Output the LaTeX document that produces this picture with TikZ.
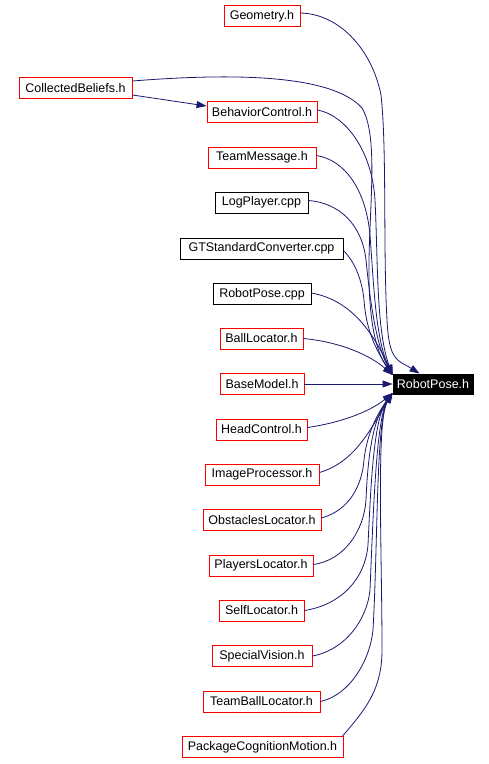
\documentclass[tikz,border=0pt]{standalone}
\usepackage{fontspec}
\setmainfont{Liberation Sans}
\usetikzlibrary{arrows.meta,calc}
\definecolor{edgeblue}{HTML}{191970}
\begin{document}
\begin{tikzpicture}[x=1pt,y=-1pt,
  filebox/.style={draw=red,line width=0.9pt,rectangle,inner sep=0pt,minimum height=21pt,font=\fontsize{12.5}{14}\selectfont,anchor=center},
  srcbox/.style={filebox,draw=black},
  mainbox/.style={filebox,draw=black,fill=black,text=white,minimum height=20pt},
  dep/.style={draw=edgeblue,line width=0.8pt,-{Triangle[length=10pt,width=7pt]}}
]
\useasboundingbox (0,0) rectangle (489,764);
\node[filebox,minimum width=76pt] (geo) at (262,16) {Geometry.h};
\node[filebox,minimum width=113pt] (cb) at (75.5,88) {CollectedBeliefs.h};
\node[filebox,minimum width=110pt] (bc) at (262,112) {BehaviorControl.h};
\node[filebox,minimum width=108pt] (tm) at (262,157.5) {TeamMessage.h};
\node[srcbox,minimum width=93pt] (lp) at (261.5,202.5) {LogPlayer.cpp};
\node[srcbox,minimum width=163pt] (gt) at (261.5,248.5) {GTStandardConverter.cpp};
\node[srcbox,minimum width=98pt] (rpc) at (262,294) {RobotPose.cpp};
\node[filebox,minimum width=83pt] (bl) at (261.5,338.5) {BallLocator.h};
\node[filebox,minimum width=84pt] (bm) at (262,384) {BaseModel.h};
\node[filebox,minimum width=91pt] (hc) at (261.5,429.5) {HeadControl.h};
\node[filebox,minimum width=114pt] (ip) at (262,474.5) {ImageProcessor.h};
\node[filebox,minimum width=118pt] (ol) at (262,520) {ObstaclesLocator.h};
\node[filebox,minimum width=104pt] (pl) at (261,565.5) {PlayersLocator.h};
\node[filebox,minimum width=85pt] (sl) at (261.5,610.5) {SelfLocator.h};
\node[filebox,minimum width=100pt] (sv) at (262,656) {SpecialVision.h};
\node[filebox,minimum width=117pt] (tbl) at (261.5,701.5) {TeamBallLocator.h};
\node[filebox,minimum width=161pt] (pcm) at (262.5,747) {PackageCognitionMotion.h};
\node[mainbox,minimum width=80pt] (rp) at (433,384) {RobotPose.h};
\coordinate (tu) at ([yshift=9pt]rp.west);
\coordinate (tl) at ([yshift=-9pt]rp.west);
\coordinate (tg) at ([xshift=27pt]rp.north west);
% upper group
\draw[dep] ([yshift=3pt]geo.east) .. controls (340,14) and (372,50) .. (381,95) .. controls (387,150) and (383,250) .. (387,320) .. controls (389,362) and (398,360) .. (tg);
\draw[dep] ([yshift=7pt]cb.east) .. controls (220,74) and (330,72) .. (362,108) .. controls (378,135) and (370,200) .. (369,260) .. controls (368,320) and (376,352) .. (tu);
\draw[dep] ([yshift=-7pt]cb.east) -- ([yshift=6pt]bc.west);
\draw[dep] ([yshift=2pt]bc.east) .. controls (345,115) and (372,150) .. (375,200) .. controls (378,260) and (376,330) .. (tu);
\draw[dep] ([yshift=2pt]tm.east) .. controls (345,160) and (366,190) .. (370,235) .. controls (374,290) and (376,340) .. (tu);
\draw[dep] ([yshift=2pt]lp.east) .. controls (340,203) and (362,225) .. (366,260) .. controls (370,300) and (376,345) .. (tu);
\draw[dep] ([yshift=-2pt]gt.east) .. controls (355,262) and (362,280) .. (364,300) .. controls (366,330) and (376,350) .. (tu);
\draw[dep] ([yshift=1pt]rpc.east) .. controls (350,300) and (372,330) .. (tu);
\draw[dep] (bl.east) .. controls (340,342) and (370,355) .. (tu);
% middle
\draw[dep] (bm.east) -- (rp.west);
% lower group
\draw[dep] ([yshift=2pt]hc.east) .. controls (345,422) and (372,410) .. (tl);
\draw[dep] ([yshift=2pt]ip.east) .. controls (355,462) and (370,430) .. (tl);
\draw[dep] ([yshift=2pt]ol.east) .. controls (350,510) and (362,485) .. (364,460) .. controls (366,440) and (374,418) .. (tl);
\draw[dep] ([yshift=1pt]pl.east) .. controls (345,560) and (364,530) .. (366,500) .. controls (368,450) and (374,418) .. (tl);
\draw[dep] ([yshift=0pt]sl.east) .. controls (340,605) and (365,580) .. (368,545) .. controls (371,480) and (374,418) .. (tl);
\draw[dep] ([yshift=0pt]sv.east) .. controls (345,650) and (367,620) .. (370,590) .. controls (373,520) and (376,418) .. (tl);
\draw[dep] ([yshift=0pt]tbl.east) .. controls (350,695) and (370,660) .. (373,630) .. controls (378,540) and (376,420) .. (tl);
\draw[dep] ([xshift=-1pt]pcm.north east) .. controls (365,710) and (382,690) .. (382,650) .. controls (382,550) and (376,420) .. (tl);
\end{tikzpicture}
\end{document}
